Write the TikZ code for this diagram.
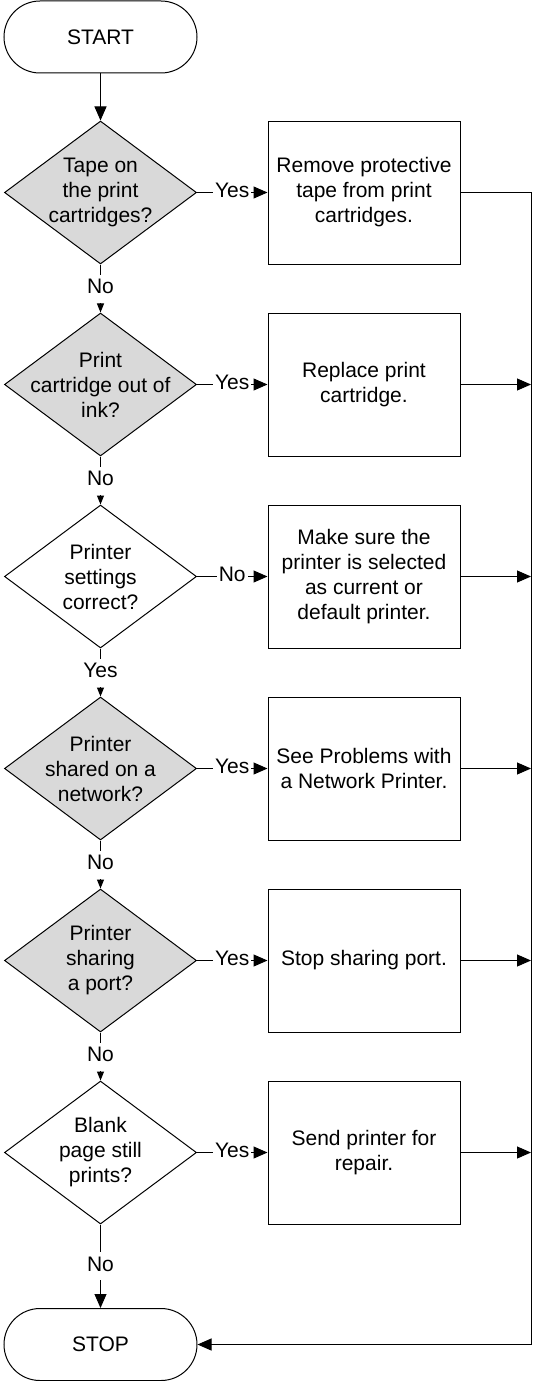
\documentclass[tikz,border=0pt]{standalone}
\usepackage{fontspec}
\setmainfont{Liberation Sans}
\usetikzlibrary{shapes.geometric,arrows.meta}
\definecolor{decgray}{RGB}{217,217,217}
\begin{document}
\begin{tikzpicture}[x=1pt,y=-1pt,line width=1pt,
  font=\fontsize{21}{25}\selectfont,
  term/.style={draw, rectangle, rounded corners=36pt, minimum width=193pt, minimum height=72pt, inner sep=0pt},
  dec/.style={draw, diamond, minimum width=192pt, minimum height=143pt, inner sep=0pt},
  decg/.style={dec, fill=decgray},
  act/.style={draw, rectangle, minimum width=192pt, minimum height=143pt, align=center, inner sep=0pt},
  lbl/.style={fill=white, inner sep=2pt, text height=17pt, text depth=7pt},
  tipL/.style={-{Triangle[length=14pt,width=12pt]}},
  tipS/.style={-{Triangle[length=9pt,width=7pt]}},
  qtext/.style={label={[align=center]center:#1}}]
\useasboundingbox (0,0) rectangle (533,1381);

\node[term] (start) at (100.5,37) {START};
\node[term] (stop) at (100.5,1344.5) {STOP};

\node[decg, qtext={Tape on\\the print\\cartridges?}] (d1) at (100.5,192.5) {};
\node[decg, qtext={Print\\cartridge out of\\ink?}] (d2) at (100.5,384.5) {};
\node[dec, qtext={Printer\\settings\\correct?}] (d3) at (100.5,576.5) {};
\node[decg, qtext={Printer\\shared on a\\network?}] (d4) at (100.5,768.5) {};
\node[decg, qtext={Printer\\sharing\\a port?}] (d5) at (100.5,960.5) {};
\node[dec, qtext={Blank\\page still\\prints?}] (d6) at (100.5,1152.5) {};

\node[act] (a1) at (364,192.5) {Remove protective\\tape from print\\cartridges.};
\node[act] (a2) at (364,384.5) {Replace print\\cartridge.};
\node[act] (a3) at (364,576.5) {Make sure the\\printer is selected\\as current or\\default printer.};
\node[act] (a4) at (364,768.5) {See Problems with\\a Network Printer.};
\node[act] (a5) at (364,960.5) {Stop sharing port.};
\node[act] (a6) at (364,1152.5) {Send printer for\\repair.};

\coordinate (rtop) at (531,192.5);
\coordinate (rbot) at (531,1344.5);

\draw[tipL] (start) -- (d1);
\draw[tipS] (d1) -- node[lbl]{No} (d2);
\draw[tipS] (d2) -- node[lbl]{No} (d3);
\draw[tipS] (d3) -- node[lbl]{Yes} (d4);
\draw[tipS] (d4) -- node[lbl]{No} (d5);
\draw[tipS] (d5) -- node[lbl]{No} (d6);
\draw[tipL] (d6) -- node[lbl]{No} (stop);

\draw[tipL] (d1) -- node[lbl]{Yes} (a1);
\draw[tipL] (d2) -- node[lbl]{Yes} (a2);
\draw[tipL] (d3) -- node[lbl]{No} (a3);
\draw[tipL] (d4) -- node[lbl]{Yes} (a4);
\draw[tipL] (d5) -- node[lbl]{Yes} (a5);
\draw[tipL] (d6) -- node[lbl]{Yes} (a6);

\draw[tipL] (a1) -- (rtop) -- (rbot) -- (stop);
\draw[tipL] (a2) -- (a2 -| rtop);
\draw[tipL] (a3) -- (a3 -| rtop);
\draw[tipL] (a4) -- (a4 -| rtop);
\draw[tipL] (a5) -- (a5 -| rtop);
\draw[tipL] (a6) -- (a6 -| rtop);
\end{tikzpicture}
\end{document}
